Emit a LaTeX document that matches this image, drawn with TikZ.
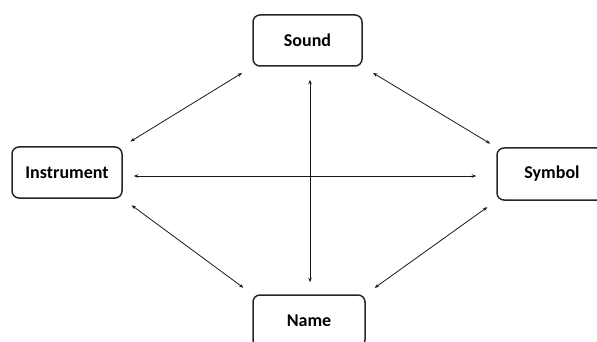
\documentclass[tikz,border=0pt]{standalone}
\usepackage{fontspec}
\setmainfont{Carlito}
\usetikzlibrary{arrows.meta}
\tikzset{
  box/.style={draw=black!85, line width=1.5pt, rounded corners=7pt, fill=white,
    inner sep=0pt, font=\fontsize{18}{20}\selectfont\bfseries},
  link/.style={draw=black!90, line width=0.8pt, {Stealth[length=4.5pt,width=3.5pt]}-{Stealth[length=4.5pt,width=3.5pt]}}
}
\begin{document}
\begin{tikzpicture}[x=1pt,y=-1pt]
\useasboundingbox (0,0) rectangle (597,342);
\clip (0,0) rectangle (597,342);
\node[box, minimum width=109pt, minimum height=51pt] (sound) at (307.5,40.5) {Sound};
\node[box, minimum width=110pt, minimum height=51pt] (instr) at (67,172.5) {Instrument};
\node[box, minimum width=110pt, minimum height=52pt] (symbol) at (552,174) {Symbol};
\node[box, minimum width=112pt, minimum height=52pt] (name) at (309,321) {Name};
\draw[link, shorten <=9pt, shorten >=12pt] (instr.north east) -- (sound.south west);
\draw[link, shorten <=12pt, shorten >=7pt] (sound.south east) -- (symbol.north west);
\draw[link, shorten <=11pt, shorten >=11pt] (instr.south east) -- (name.north west);
\draw[link, shorten <=11pt, shorten >=11pt] (name.north east) -- (symbol.south west);
\draw[link, shorten <=13pt, shorten >=12pt] (sound.south -| 310,0) -- (name.north -| 310,0);
\draw[link, shorten <=11pt, shorten >=20pt] (instr.east |- 0,176) -- (symbol.west |- 0,176);
\end{tikzpicture}
\end{document}
